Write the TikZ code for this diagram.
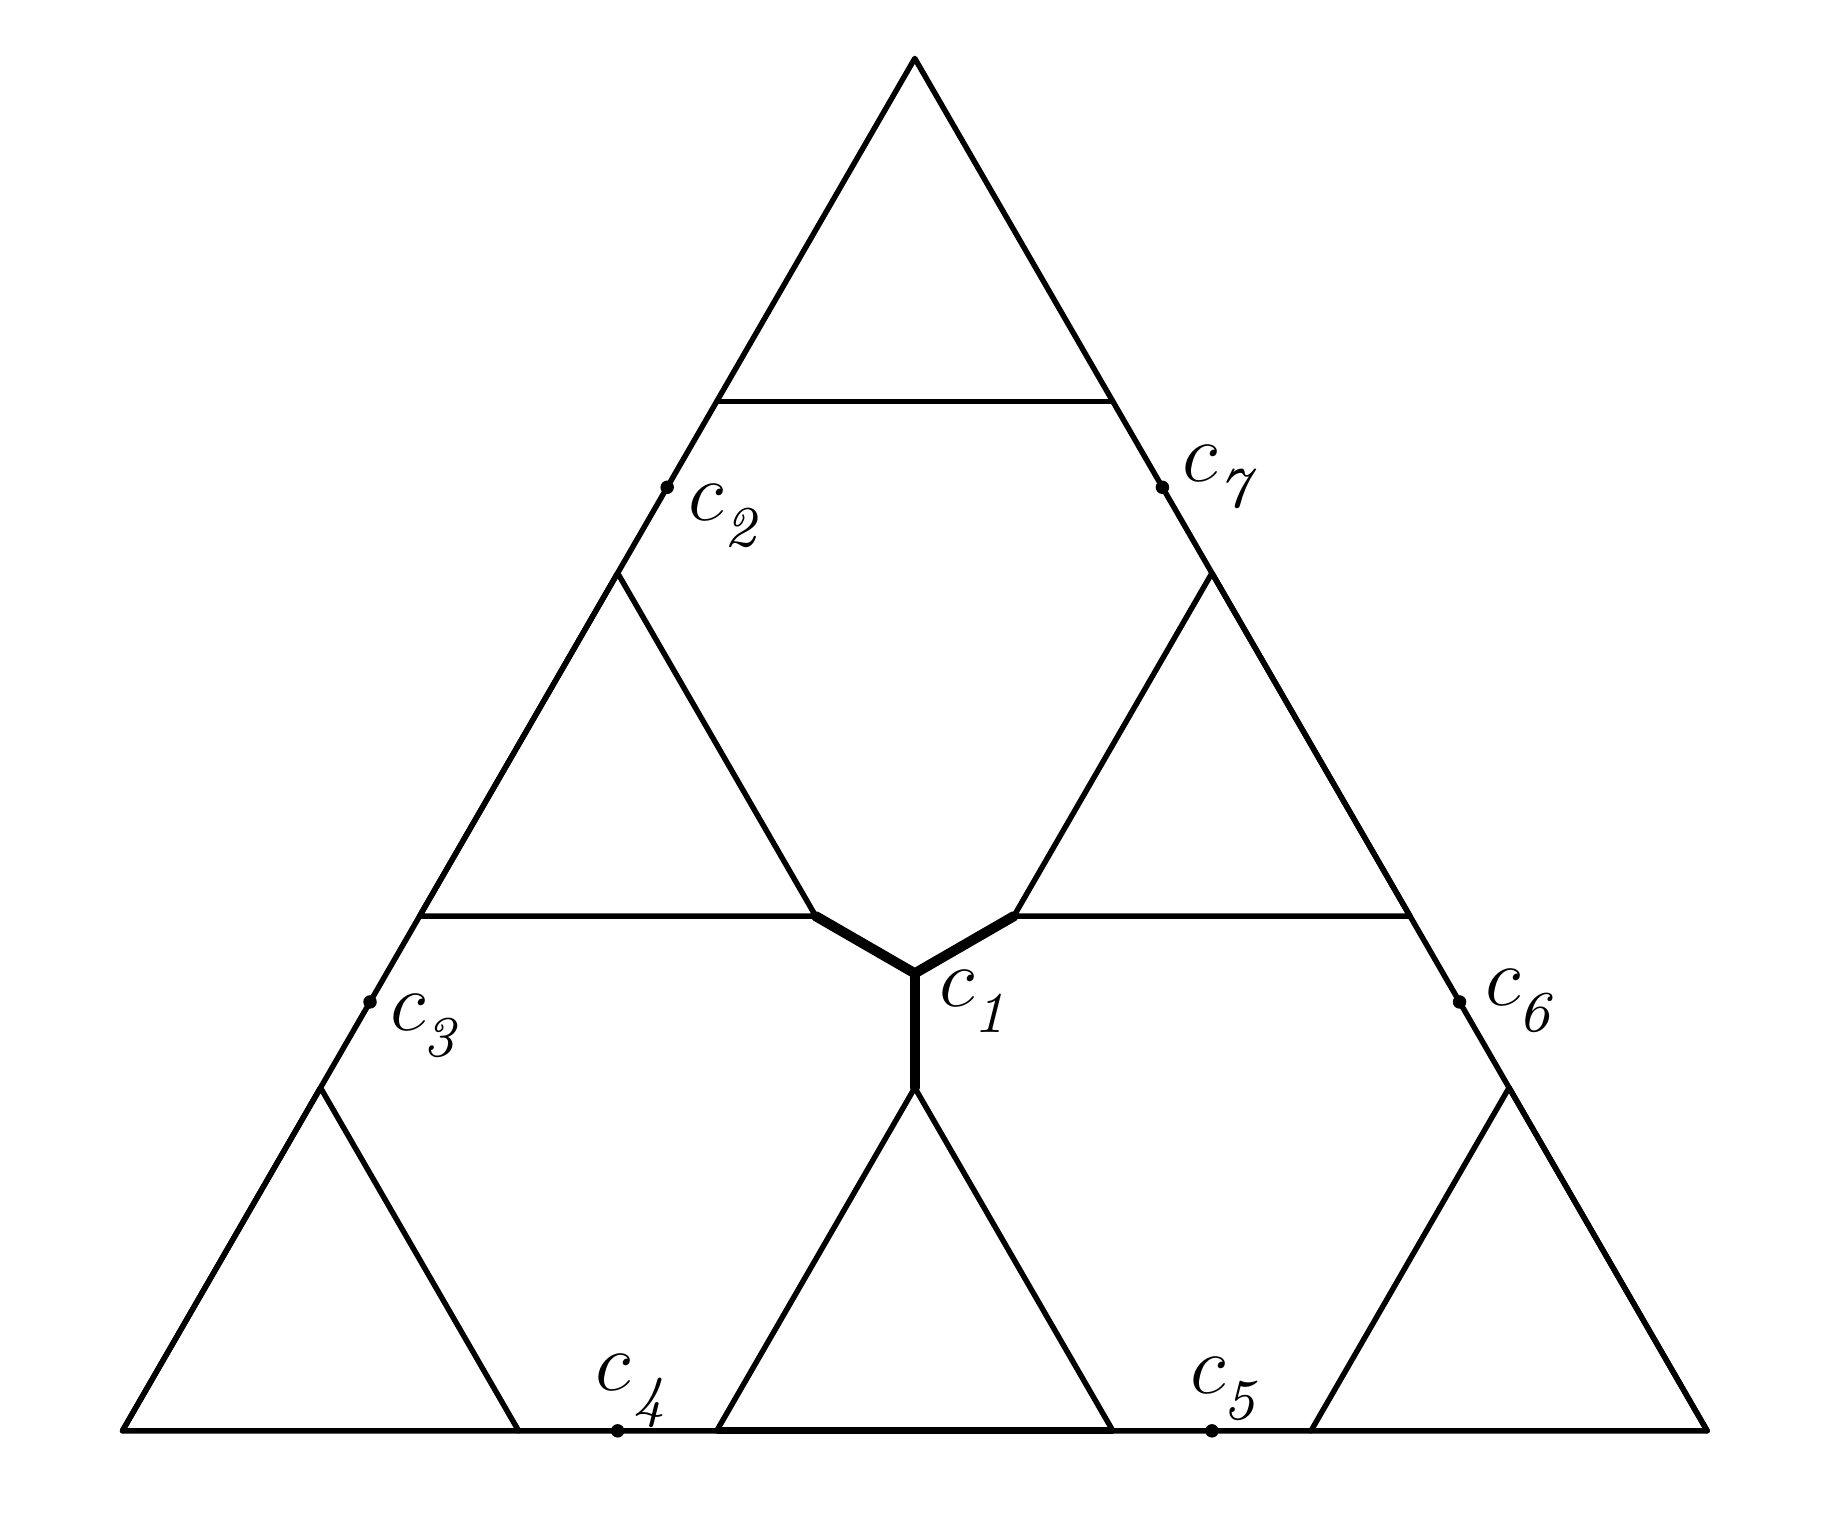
\documentclass[tikz,border=0pt]{standalone}
\usetikzlibrary{calc}
\newcommand{\clab}[2][-0.3pt]{$c$\kern#1\raisebox{-3.7pt}{\fontsize{8.3}{9}\selectfont\itshape #2}}
\begin{document}
\begin{tikzpicture}[
  edge/.style={line width=0.78pt, line join=round, line cap=round},
  steiner/.style={line width=1.45pt, line join=round, line cap=round},
  pt/.style={fill=black},
  lab/.style={anchor=base west, inner sep=0pt, font=\fontsize{12}{14}\selectfont}
]
\useasboundingbox (-0.618,-0.525) rectangle (8.625,7.223);
% big triangle
\coordinate (A) at (0,0);
\coordinate (B) at (8,0);
\coordinate (T) at (4,6.9282);
% top triangle base
\coordinate (t1) at (3,5.1962);
\coordinate (t2) at (5,5.1962);
% left middle triangle
\coordinate (lm) at (2.5,4.3301);
\coordinate (l1) at (1.5,2.5981);
\coordinate (l2) at (3.5,2.5981);
% right middle triangle
\coordinate (rm) at (5.5,4.3301);
\coordinate (r1) at (4.5,2.5981);
\coordinate (r2) at (6.5,2.5981);
% bottom triangles
\coordinate (bl) at (1,1.7321);
\coordinate (bl2) at (2,0);
\coordinate (bm) at (4,1.7321);
\coordinate (bm1) at (3,0);
\coordinate (bm2) at (5,0);
\coordinate (br) at (7,1.7321);
\coordinate (br1) at (6,0);
% Steiner point
\coordinate (C1) at (4,2.3094);
% dots
\coordinate (C2) at (2.75,4.7631);
\coordinate (C3) at (1.25,2.1651);
\coordinate (C4) at (2.5,0);
\coordinate (C5) at (5.5,0);
\coordinate (C6) at (6.75,2.1651);
\coordinate (C7) at (5.25,4.7631);

\draw[edge] (A) -- (B) -- (T) -- cycle;
\draw[edge] (t1) -- (t2);
\draw[edge] (l1) -- (lm) -- (l2) -- cycle;
\draw[edge] (r1) -- (rm) -- (r2) -- cycle;
\draw[edge] (A) -- (bl) -- (bl2);
\draw[edge] (bm1) -- (bm) -- (bm2);
\draw[line width=1.0pt] (bm1) -- (bm2);
\draw[edge] (br1) -- (br) -- (B);
\draw[steiner] (l2) -- (C1) -- (r1);
\draw[steiner] (C1) -- (bm);

\foreach \p in {C2,C3,C4,C5,C6,C7}{\fill[pt] (\p) circle (0.034);}

\node[lab] (L1) at ($(C1)+(0.12,-0.168)$) {\clab{1}};
\node[lab] (L2) at ($(C2)+(0.10,-0.168)$) {\clab[0.1pt]{2}};
\node[lab] (L3) at ($(C3)+(0.095,-0.145)$) {\clab{3}};
\node[lab] (L4) at ($(C4)+(-0.12,0.203)$) {\clab[0.4pt]{4}};
\node[lab] (L5) at ($(C5)+(-0.115,0.188)$) {\clab{5}};
\node[lab] (L6) at ($(C6)+(0.123,-0.02)$) {\clab{6}};
\node[lab] (L7) at ($(C7)+(0.093,0.03)$) {\clab[0.2pt]{7}};
\end{tikzpicture}
\end{document}
